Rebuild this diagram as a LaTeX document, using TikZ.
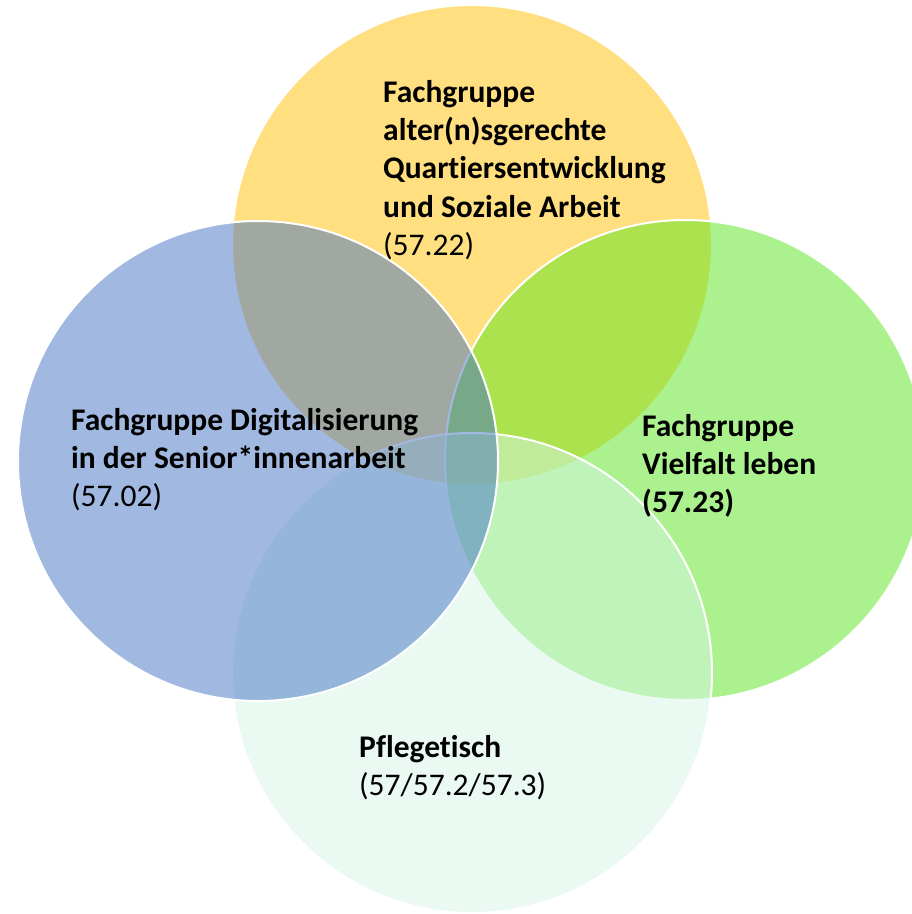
\documentclass[tikz,border=0pt]{standalone}
\usepackage{fontspec}
\setmainfont[Ligatures=NoCommon]{Carlito}
\usetikzlibrary{positioning}

\definecolor{ringyellow}{RGB}{255,192,0}
\definecolor{ringgreen}{RGB}{88,230,30}
\definecolor{ringmint}{RGB}{214,245,231}
\definecolor{ringblue}{RGB}{68,114,196}

\begin{document}
\begin{tikzpicture}[x=1pt,y=-1pt,
    ring/.style={draw=white, line width=2pt, fill opacity=0.5},
    every node/.style={align=left, inner sep=0pt, anchor=north west, font=\fontsize{31.5}{38.3}\selectfont}]
    \clip (0,0) rectangle (912,914);
    \fill[white] (0,0) rectangle (912,914);
    % draw the circles
    \draw[ring, fill=ringyellow] (472,245) circle [radius=240];
    \draw[ring, fill=ringgreen] (685,460) circle [radius=240];
    \draw[ring, fill=ringmint] (472,673) circle [radius=240];
    \draw[ring, fill=ringblue] (258,461) circle [radius=240];
    % create the labels
    \node (quartier) at (383,80) {\textbf{Fachgruppe}\\\textbf{alter(n)sgerechte}\\\textbf{Quartiersentwicklung}\\\textbf{und Soziale Arbeit}\\(57.22)};
    \node (digital) at (71,408) {\textbf{Fachgruppe Digitalisierung}\\\textbf{in der Senior*innenarbeit}\\(57.02)};
    \node (vielfalt) at (642,414) {\textbf{Fachgruppe}\\\textbf{Vielfalt leben}\\\textbf{(57.23)}};
    \node (pflege) at (359,735) {\textbf{Pflegetisch}\\(57/57.2/57.3)};
\end{tikzpicture}
\end{document}
